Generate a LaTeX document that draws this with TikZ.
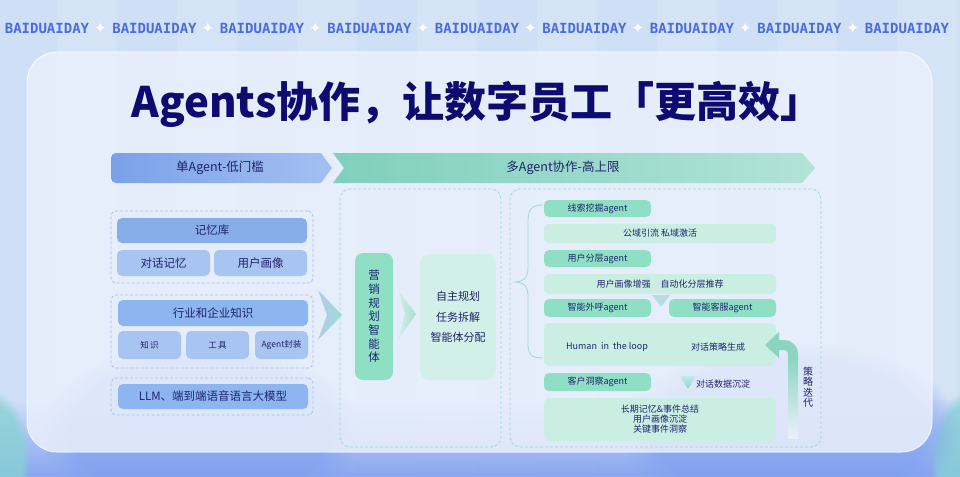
\documentclass[tikz,border=0pt]{standalone}
\usepackage{fontspec}
\setmainfont{Noto Sans CJK SC}
\newfontfamily\bannerfont{DejaVu Sans Mono}
\newfontfamily\symfont{DejaVu Sans}
\usetikzlibrary{fadings}
\definecolor{bgcol}{HTML}{CFDFF6}
\definecolor{cardcol}{HTML}{EAF0FC}
\definecolor{navy}{HTML}{0E0B70}
\definecolor{txt}{HTML}{1F236E}
\definecolor{bluebar}{HTML}{87AEE9}
\definecolor{bluebarB}{HTML}{8DB6F1}
\definecolor{bluesub}{HTML}{A8C4F0}
\definecolor{bluedash}{HTML}{A9C0EA}
\definecolor{greendash}{HTML}{A0DACD}
\definecolor{greenag}{HTML}{8FDFC5}
\definecolor{greenrow}{HTML}{CAEFE2}
\definecolor{greenbox}{HTML}{D2EFE8}
\definecolor{bannerblue}{HTML}{4A6CDF}
\definecolor{loopgreen}{HTML}{8BD5C0}
\definecolor{hazeblue}{HTML}{7B9CF0}
\definecolor{tealc}{HTML}{86D3D3}
\definecolor{hdrblueL}{HTML}{7AA1E9}
\definecolor{hdrblueR}{HTML}{A4C0F2}
\definecolor{hdrgreenL}{HTML}{80CFBD}
\definecolor{hdrgreenR}{HTML}{B2E3D8}
\definecolor{chevA}{HTML}{A9C4F0}
\definecolor{chevB}{HTML}{8FDCC8}
\definecolor{chevC}{HTML}{D6EEEA}
\definecolor{chevD}{HTML}{9EDCCB}
\definecolor{tri1}{HTML}{B3DCDB}
\definecolor{tri2A}{HTML}{C5E6EE}
\definecolor{tri2B}{HTML}{8FD8C6}
\tikzset{
  basebox/.style={rectangle, inner sep=0pt, text=txt, align=center},
  dashbluebox/.style={basebox, draw=bluedash, dash pattern=on 3pt off 2pt, line width=0.8pt, rounded corners=5pt},
  dashgreenbox/.style={basebox, draw=greendash, dash pattern=on 3pt off 2pt, line width=0.8pt, rounded corners=10pt},
  barbox/.style={basebox, fill=bluebar, rounded corners=5pt, font=\fontsize{11.5}{14}\selectfont},
  subbox/.style={basebox, fill=bluesub, rounded corners=5pt, font=\fontsize{11.5}{14}\selectfont},
  agentbox/.style={basebox, fill=greenag, rounded corners=5pt, minimum width=107pt, font=\fontsize{9}{11}\selectfont},
  rowbox/.style={basebox, fill=greenrow, rounded corners=6pt, minimum width=232pt, font=\fontsize{9}{11}\selectfont},
  smalltext/.style={basebox, font=\fontsize{9}{11}\selectfont},
  bannertext/.style={text=bannerblue, font=\bannerfont\bfseries\fontsize{14}{14}\selectfont, inner sep=0pt},
  startext/.style={text=white, font=\symfont\fontsize{15}{15}\selectfont, inner sep=0pt},
  haze/.style={path fading=circle with fuzzy edge 20 percent},
}
\begin{document}
\begin{tikzpicture}[x=1pt,y=-1pt]
\useasboundingbox (0,0) rectangle (960,476);
% background
\fill[bgcol] (0,0) rectangle (960,476);
\foreach \i in {0,...,7} {
  \fill[white,opacity=0.14] ({57+120*\i},0) rectangle ({117+120*\i},476);
}
\shade[top color=bgcol, bottom color=hazeblue, opacity=0.85] (0,400) rectangle (960,476);
\fill[tealc, haze, opacity=0.75] (-50,390) rectangle (30,530);
\fill[tealc, haze, opacity=0.75] (930,390) rectangle (1010,530);
\fill[hazeblue, haze, opacity=0.55] (40,340) rectangle (360,520);
\fill[hazeblue, haze, opacity=0.55] (620,340) rectangle (960,520);
% banner row
\foreach \k in {0,...,8} {
  \node[bannertext] (ban\k) at ({47+107.5*\k},28) {BAIDUAIDAY};
}
\foreach \k in {0,...,7} {
  \node[startext] (star\k) at ({100.5+107.5*\k},28) {✦};
}
% card
\fill[cardcol, opacity=0.84, rounded corners=30pt] (27,52) rectangle (932,452);
\draw[white, opacity=0.7, line width=1pt, rounded corners=30pt] (27,52) rectangle (932,452);
% title
\node[text=navy, font=\bfseries\fontsize{42}{47}\selectfont, inner sep=0pt] (title) at (477,104) {Agents协作，让数字员工「更高效」};
% header arrows
\shade[left color=hdrblueL, right color=hdrblueR] (321,153) -- (332,168) -- (321,183) [rounded corners=5pt] -- (111,183) -- (111,153) [sharp corners] -- cycle;
\shade[left color=hdrgreenL, right color=hdrgreenR] (333,153) -- (802,153) -- (815,168) -- (802,183) -- (333,183) -- (344,168) -- cycle;
\node[basebox, font=\fontsize{12.5}{15}\selectfont] (hsingle) at (220,168) {单Agent-低门槛};
\node[basebox, font=\fontsize{12.5}{15}\selectfont] (hmulti) at (563,168) {多Agent协作-高上限};
% left column
\node[dashbluebox, minimum width=202pt, minimum height=72pt] (g1) at (212,247) {};
\node[barbox, minimum width=190pt, minimum height=25pt] (mem) at (212,230.5) {记忆库};
\node[subbox, minimum width=93pt, minimum height=26pt] (dlg) at (163.5,263) {对话记忆};
\node[subbox, minimum width=93pt, minimum height=26pt] (prof) at (260.5,263) {用户画像};
\node[dashbluebox, minimum width=202pt, minimum height=73pt] (g2) at (212,331.5) {};
\node[barbox, fill=bluebarB, minimum width=190pt, minimum height=26pt] (ind) at (213,313) {行业和企业知识};
\node[subbox, minimum width=63pt, minimum height=28pt, font=\fontsize{8.5}{10}\selectfont] (k1) at (149.5,345) {知\,识};
\node[subbox, minimum width=63pt, minimum height=28pt, font=\fontsize{8.5}{10}\selectfont] (k2) at (217.5,345) {工\,具};
\node[subbox, minimum width=53pt, minimum height=28pt, font=\fontsize{8.5}{10}\selectfont] (k3) at (281.5,345) {Agent封装};
\node[dashbluebox, minimum width=202pt, minimum height=37pt] (g3) at (212,396.5) {};
\node[barbox, fill=bluebarB, minimum width=190pt, minimum height=25pt] (llm) at (213,396.5) {LLM、端到端语音语言大模型};
% chevron left -> middle
\shade[left color=chevA, right color=chevB, opacity=0.85] (318,290) -- (342,315) -- (318,340) -- (327,315) -- cycle;
% middle column
\node[dashgreenbox, minimum width=161pt, minimum height=258pt] (gm) at (420.5,318) {};
\node[basebox, fill=greenag, rounded corners=8pt, minimum width=38pt, minimum height=127pt, font=\fontsize{11.5}{13.7}\selectfont] (mkt) at (374,316.5) {营\\销\\规\\划\\智\\能\\体};
\shade[left color=chevC, right color=chevD, opacity=0.9] (398,290) -- (416,314) -- (398,340) -- (405,314) -- cycle;
\node[basebox, fill=greenbox, rounded corners=10pt, minimum width=76pt, minimum height=126pt, font=\fontsize{11}{20.5}\selectfont] (plan) at (458,317) {自主规划\\任务拆解\\智能体分配};
% right column
\node[dashgreenbox, minimum width=311pt, minimum height=258pt] (gr) at (665.5,318) {};
\draw[greendash, line width=0.8pt] (543,205) .. controls (531,205) and (528,210) .. (528,222) -- (528,268) .. controls (528,279) and (522,282) .. (515,282) .. controls (522,282) and (528,285) .. (528,296) -- (528,344) .. controls (528,355) and (532,358) .. (543,358);
\node[agentbox, minimum height=17pt] (a1) at (597.5,208.5) {线索挖掘agent};
\node[rowbox, minimum height=19pt] (r1) at (660,233.5) {公域引流 私域激活};
\node[agentbox, minimum height=17pt] (a2) at (597.5,258.5) {用户分层agent};
\node[rowbox, minimum height=20pt] (r2) at (660,284) {用户画像增强\hspace{10pt}自动化分层推荐};
\fill[tri1, opacity=0.9] (652,295) -- (670,295) -- (661,307) -- cycle;
\node[agentbox, minimum height=18pt] (a3) at (597.5,308) {智能外呼agent};
\node[agentbox, minimum height=18pt] (a4) at (722.5,308) {智能客服agent};
\node[rowbox, minimum height=43pt] (r3) at (660,344.5) {};
\node[smalltext] (hitl) at (607,347) {Human\ \ in\ \ the loop};
\node[smalltext] (strat) at (718,347) {对话策略生成};
\node[agentbox, minimum height=18pt] (a5) at (597.5,382) {客户洞察agent};
\shade[top color=tri2A, bottom color=tri2B] (680,376) -- (696,376) -- (688,389) -- cycle;
\node[smalltext] (sink) at (723,384) {对话数据沉淀};
\node[rowbox, minimum height=43pt] (r4) at (660,419.5) {长期记忆\&事件总结\\[-1pt]用户画像沉淀\\[-1pt]关键事件洞察};
% loop arrow
\shade[top color=loopgreen, bottom color=cardcol] (788,358) rectangle (798,438);
\draw[loopgreen, line width=10pt, rounded corners=9pt] (793,360) |- (777,345);
\fill[loopgreen] (779,332) -- (765,345) -- (779,358) -- cycle;
\node[basebox, font=\fontsize{10}{10.5}\selectfont] (iter) at (808,387) {策\\略\\迭\\代};
\end{tikzpicture}
\end{document}
